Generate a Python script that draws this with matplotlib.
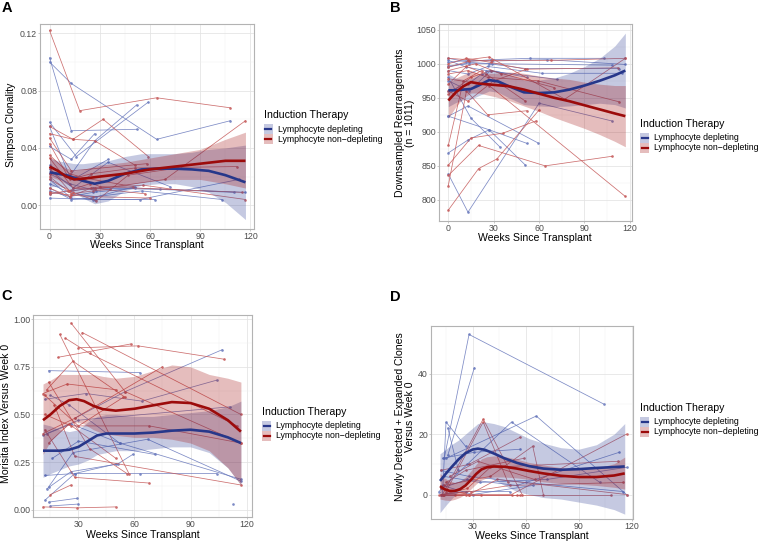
import matplotlib
matplotlib.use('Agg')
import matplotlib.pyplot as plt
from matplotlib.patches import Rectangle
from matplotlib.lines import Line2D

plt.rcParams['font.family'] = ['Liberation Sans', 'DejaVu Sans']

W, H = 763, 543

# ---------------- Panel A : Simpson clonality ----------------
A_blue_x = [[0, 13, 64, 108], [0, 13, 52], [0, 16, 59], [0, 12, 27, 52], [0, 13, 27],
            [0, 14, 35, 72], [0, 13, 27, 63], [0, 14, 28, 55, 103], [0, 12, 26, 51, 117],
            [0, 13, 26, 66, 110], [0, 26, 54, 113], [0, 12, 28], [0, 13, 25, 51], [0, 14, 35]]
A_blue_y = [[0.100, 0.085, 0.046, 0.059], [0.103, 0.052, 0.053], [0.058, 0.034, 0.072],
            [0.055, 0.020, 0.045, 0.070], [0.041, 0.032, 0.050], [0.025, 0.012, 0.030, 0.013],
            [0.018, 0.005, 0.004, 0.004], [0.015, 0.008, 0.006, 0.010, 0.004],
            [0.010, 0.006, 0.009, 0.012, 0.009], [0.008, 0.010, 0.012, 0.011, 0.009],
            [0.005, 0.004, 0.004, 0.018], [0.022, 0.015, 0.010], [0.012, 0.004, 0.005, 0.013],
            [0.028, 0.018, 0.032]]
A_red_x = [[0, 18, 64, 108], [0, 14, 32, 59], [0, 14, 27, 51], [0, 13, 58], [0, 12, 25, 51, 112],
           [0, 14, 27, 69, 117], [0, 12, 27, 56, 117], [0, 13, 26, 36], [0, 14, 28, 47, 77],
           [0, 12, 25, 57], [0, 13, 26, 60], [0, 16, 30, 115], [0, 12, 21, 50], [0, 11, 24]]
A_red_y = [[0.122, 0.066, 0.075, 0.068], [0.055, 0.046, 0.060, 0.034], [0.050, 0.046, 0.045, 0.028],
           [0.047, 0.024, 0.029], [0.043, 0.018, 0.022, 0.026, 0.027],
           [0.033, 0.012, 0.011, 0.018, 0.059], [0.026, 0.010, 0.012, 0.014, 0.004],
           [0.020, 0.008, 0.010, 0.011], [0.018, 0.009, 0.003, 0.021, 0.026],
           [0.012, 0.006, 0.012, 0.008], [0.009, 0.007, 0.006, 0.005],
           [0.022, 0.020, 0.013, 0.009], [0.035, 0.022, 0.019, 0.013], [0.008, 0.010, 0.015]]
A_sb_x = [0, 5, 10, 15, 20, 27, 35, 45, 55, 65, 75, 85, 95, 105, 117]
A_sb_y = [0.023, 0.022, 0.021, 0.019, 0.017, 0.015, 0.017, 0.022, 0.025, 0.0255, 0.0255, 0.025, 0.024, 0.021, 0.016]
A_sb_lo = [0.013, 0.013, 0.012, 0.009, 0.005, 0.001, 0.003, 0.010, 0.014, 0.015, 0.015, 0.013, 0.009, 0.002, -0.010]
A_sb_hi = [0.033, 0.031, 0.030, 0.029, 0.029, 0.030, 0.031, 0.034, 0.036, 0.036, 0.036, 0.037, 0.039, 0.040, 0.042]
A_sr_x = [0, 5, 10, 15, 20, 30, 45, 60, 75, 90, 105, 117]
A_sr_y = [0.027, 0.024, 0.020, 0.018, 0.0185, 0.020, 0.022, 0.025, 0.027, 0.029, 0.031, 0.031]
A_sr_lo = [0.020, 0.018, 0.015, 0.012, 0.012, 0.012, 0.014, 0.017, 0.018, 0.018, 0.015, 0.012]
A_sr_hi = [0.034, 0.030, 0.026, 0.024, 0.025, 0.028, 0.030, 0.033, 0.036, 0.039, 0.046, 0.051]

# ---------------- Panel B : downsampled rearrangements ----------------
B_blue_x = [[0, 13, 60, 108], [0, 27, 51], [0, 13, 27, 52], [0, 15, 34], [0, 13, 59],
            [0, 12, 28, 54, 103], [0, 13, 29, 65, 117], [0, 14, 27, 51, 113], [0, 13, 26, 62, 115],
            [0, 12, 25, 72], [0, 14, 28, 52], [0, 13, 22], [0, 14, 29, 108]]
B_blue_y = [[838, 782, 942, 916], [923, 903, 851], [869, 888, 903, 883], [980, 920, 878],
            [923, 938, 884], [1008, 1003, 1006, 1008, 1008], [1002, 1005, 1004, 1006, 999],
            [997, 1000, 1000, 993, 993], [990, 985, 996, 986, 986], [1005, 995, 990, 977],
            [975, 960, 990, 980], [960, 970, 985], [995, 1002, 1000, 998]]
B_red_x = [[0, 27, 117], [0, 20, 64, 108], [0, 20, 32, 60], [0, 15, 36, 58], [0, 12, 26, 52],
           [0, 13, 27, 77, 117], [0, 12, 28, 51, 112], [0, 14, 29, 68, 117], [0, 13, 26, 59, 113],
           [0, 12, 25, 51], [0, 15, 28, 70], [0, 10, 22], [0, 13, 30, 52], [0, 18, 35]]
B_red_y = [[978, 968, 805], [836, 880, 850, 864], [785, 846, 860, 932], [851, 891, 898, 916],
           [821, 960, 925, 931], [1008, 1006, 1010, 948, 1008], [1000, 1008, 1002, 992, 994],
           [995, 1004, 1005, 1005, 1008], [985, 990, 980, 975, 944], [970, 996, 985, 945],
           [955, 980, 990, 965], [880, 975, 990], [960, 945, 975, 992], [990, 1000, 985]]
B_sb_x = [0, 5, 10, 15, 20, 27, 33, 40, 50, 60, 70, 80, 90, 100, 110, 117]
B_sb_y = [961, 961, 962, 963, 968, 976, 974, 967, 958, 957, 958, 962, 968, 975, 983, 990]
B_sb_lo = [937, 943, 947, 948, 953, 960, 958, 950, 940, 938, 937, 938, 940, 942, 940, 935]
B_sb_hi = [985, 979, 977, 978, 983, 992, 990, 984, 976, 976, 979, 986, 996, 1008, 1026, 1045]
B_sr_x = [0, 5, 10, 15, 20, 30, 40, 50, 60, 70, 80, 90, 100, 110, 117]
B_sr_y = [946, 958, 967, 973, 971, 969, 967, 962, 956, 950, 945, 939, 933, 927, 923]
B_sr_lo = [920, 937, 950, 957, 957, 952, 946, 938, 930, 921, 913, 905, 896, 886, 878]
B_sr_hi = [972, 979, 984, 989, 986, 986, 988, 986, 982, 979, 977, 973, 970, 968, 968]

# ---------------- Panel C : Morisita index ----------------
C_blue_x = [[14, 63], [12, 28, 63, 104], [15, 30], [14, 29], [28, 55, 107], [12, 34, 64, 104],
            [13, 30, 111], [11, 26, 52, 117], [14, 27, 67, 117], [16, 30, 71], [113],
            [13, 26, 51, 59], [12, 28, 50], [15, 25, 52]]
C_blue_y = [[0.73, 0.72], [0.18, 0.19, 0.19, 0.19], [0.02, 0.03], [0.04, 0.06], [0.48, 0.62, 0.84],
            [0.58, 0.61, 0.57, 0.68], [0.40, 0.47, 0.54], [0.39, 0.45, 0.35, 0.16],
            [0.12, 0.30, 0.37, 0.15], [0.27, 0.36, 0.29], [0.03], [0.11, 0.20, 0.24, 0.29],
            [0.05, 0.19, 0.24], [0.60, 0.55, 0.35]]
C_red_x = [[26, 55, 117], [32, 117], [20, 57], [23, 36, 115], [19, 58], [30, 62, 108],
           [11, 28, 75], [11, 24, 50], [13, 27, 55], [12, 26, 68, 117], [14, 25, 50], [15, 26],
           [11, 29, 50], [12, 28, 68], [17, 28, 117], [14, 36, 56], [12, 30, 54]]
C_red_y = [[0.98, 0.62, 0.35], [0.93, 0.50], [0.92, 0.19], [0.90, 0.82, 0.44], [0.80, 0.87],
           [0.85, 0.86, 0.79], [0.40, 0.48, 0.75], [0.61, 0.66, 0.63], [0.63, 0.78, 0.59],
           [0.50, 0.44, 0.44, 0.35], [0.35, 0.45, 0.27], [0.08, 0.13], [0.015, 0.01, 0.015],
           [0.42, 0.17, 0.14], [0.55, 0.28, 0.13], [0.67, 0.32, 0.19], [0.60, 0.44, 0.59]]
C_sb_x = [11, 15, 20, 25, 30, 35, 40, 45, 50, 60, 70, 80, 90, 100, 110, 117]
C_sb_y = [0.31, 0.31, 0.31, 0.315, 0.33, 0.36, 0.39, 0.40, 0.40, 0.40, 0.405, 0.415, 0.42, 0.41, 0.38, 0.35]
C_sb_lo = [0.17, 0.19, 0.21, 0.23, 0.24, 0.26, 0.29, 0.30, 0.31, 0.31, 0.32, 0.33, 0.33, 0.30, 0.22, 0.13]
C_sb_hi = [0.45, 0.44, 0.42, 0.41, 0.42, 0.46, 0.49, 0.50, 0.50, 0.49, 0.49, 0.50, 0.51, 0.52, 0.54, 0.57]
C_sr_x = [11, 15, 20, 25, 29, 33, 38, 43, 50, 60, 70, 80, 90, 100, 110, 117]
C_sr_y = [0.47, 0.50, 0.545, 0.575, 0.58, 0.57, 0.545, 0.528, 0.52, 0.53, 0.548, 0.565, 0.56, 0.53, 0.47, 0.41]
C_sr_lo = [0.29, 0.36, 0.41, 0.45, 0.46, 0.45, 0.42, 0.40, 0.39, 0.38, 0.38, 0.37, 0.35, 0.31, 0.22, 0.13]
C_sr_hi = [0.66, 0.68, 0.71, 0.71, 0.71, 0.71, 0.71, 0.70, 0.69, 0.70, 0.73, 0.76, 0.75, 0.71, 0.69, 0.67]

# ---------------- Panel D : newly detected + expanded clones ----------------
D_blue_x = [[14, 28, 104], [16, 31], [13, 15, 26], [15, 66, 117], [11, 27, 52, 102],
            [13, 31, 57], [12, 27, 55, 113], [13, 30, 64], [12, 26, 51], [14, 34, 72, 117],
            [16, 22], [12, 28, 60, 115]]
D_blue_y = [[12, 53, 30], [13, 42], [0, 24, 16], [12, 26, 0], [1, 10, 24, 4], [12, 14, 15],
            [2, 5, 3, 14], [3, 0, 3], [0, 1, 1], [6, 4, 5, 9], [22, 8], [8, 6, 4, 1]]
D_red_x = [[13, 36, 58], [15, 36, 50], [12, 28, 57], [14, 40, 64, 70], [12, 26, 52, 117],
           [13, 27, 40, 112], [11, 20, 35, 57], [14, 28, 55, 108], [12, 28, 44, 117],
           [15, 26, 59], [13, 29, 51, 115], [17, 33, 65]]
D_red_y = [[0, 25, 0], [1, 24, 4], [8, 10, 19], [3, 6, 16, 0], [0, 0, 0, 20], [0, 2, 9, 11],
           [0, 0, 0, 0], [0, 0, 0, 0], [2, 0, 5, 0], [4, 8, 12], [0, 1, 3, 4], [6, 11, 5]]
D_sb_x = [11.6, 15, 18, 22, 26, 30, 33, 37, 42, 48, 55, 62, 70, 80, 90, 100, 110, 116]
D_sb_y = [4.5, 7.0, 9.0, 11.6, 13.7, 14.9, 15.2, 14.8, 13.6, 12.0, 10.5, 9.4, 8.6, 8.2, 8.4, 8.8, 9.1, 9.3]
D_sb_lo = [-6, -3.5, -1.5, 1, 3, 5, 6, 6, 5, 3, 1, 0, -1, -1.5, -2.5, -3.5, -5, -6.5]
D_sb_hi = [13.5, 15, 16.5, 18, 20, 22, 23.5, 24, 23.5, 22.5, 20.5, 18.5, 17, 15.5, 15, 16.5, 20, 23.5]
D_sr_x = [11.6, 14, 17, 20, 23, 26, 29, 32, 35, 38, 42, 48, 55, 62, 70, 80, 90, 100, 110, 116]
D_sr_y = [2.8, 1.8, 1.2, 1.2, 1.8, 3.0, 4.8, 6.8, 8.3, 9.0, 9.3, 9.2, 8.6, 7.8, 7.0, 6.2, 5.8, 5.8, 6.3, 7.0]
D_sr_lo = [-1.5, -1.8, -2, -1.6, -0.9, 0.2, 1.8, 3.5, 4.8, 5.5, 5.8, 5.8, 5.5, 5.0, 4.2, 3.7, 3.4, 3.0, 2.4, 1.8]
D_sr_hi = [7, 5.5, 4.5, 4, 4.5, 5.8, 7.8, 10, 11.8, 12.5, 12.8, 12.6, 11.7, 10.6, 9.8, 8.9, 8.4, 8.7, 10.2, 12.4]

legend_title = 'Induction Therapy'
legend_labels = ['Lymphocyte depleting', 'Lymphocyte non\u2212depleting']
x_title = 'Weeks Since Transplant'

BLUE_PT = '#6676bb'
RED_PT = '#c45656'
BLUE_SM = '#27378a'
RED_SM = '#9c0b0b'
BLUE_FILL = '#2f4096'
RED_FILL = '#a31313'
FILL_ALPHA = 0.28
TICK_C = '#4d4d4d'

fig = plt.figure(figsize=(W / 100, H / 100), dpi=100)


def rect(l, t, r, b):
    return [l / W, 1 - b / H, (r - l) / W, (b - t) / H]


def fx(px):
    return px / W


def fy(py):
    return 1 - py / H


def panel(rc, xlim, ylim, xticks, yticks, ylabels, bx, by, rx, ry, sb, sr):
    ax = fig.add_axes(rc)
    ax.set_xlim(*xlim)
    ax.set_ylim(*ylim)
    ax.set_xticks(xticks)
    ax.set_yticks(yticks)
    ax.set_yticklabels(ylabels)
    mx = [(xticks[i] + xticks[i + 1]) / 2 for i in range(len(xticks) - 1)]
    if xticks[0] - (xticks[1] - xticks[0]) / 2 > xlim[0]:
        mx = [xticks[0] - (xticks[1] - xticks[0]) / 2] + mx
    my = [(yticks[i] + yticks[i + 1]) / 2 for i in range(len(yticks) - 1)]
    ax.set_xticks(mx, minor=True)
    ax.set_yticks(my, minor=True)
    ax.grid(True, which='major', color='#e3e3e3', lw=0.55, zorder=0)
    ax.grid(True, which='minor', color='#efefef', lw=0.35, zorder=0)
    ax.tick_params(which='minor', length=0)
    ax.tick_params(which='major', length=1.6, width=0.5, color='#b3b3b3',
                   labelsize=6.3, labelcolor=TICK_C, pad=0.6)
    for s in ax.spines.values():
        s.set_color('#b3b3b3')
        s.set_linewidth(0.8)
    ax.set_axisbelow(True)
    for xs, ys in zip(bx, by):
        ax.plot(xs, ys, '-o', color=BLUE_PT, lw=0.55, ms=1.9, mew=0, alpha=0.85, zorder=2)
    for xs, ys in zip(rx, ry):
        ax.plot(xs, ys, '-o', color=RED_PT, lw=0.55, ms=1.9, mew=0, alpha=0.85, zorder=2)
    (sbx, sby, sblo, sbhi), (srx, sry, srlo, srhi) = sb, sr
    ax.fill_between(sbx, sblo, sbhi, color=BLUE_FILL, alpha=FILL_ALPHA, lw=0, zorder=3)
    ax.fill_between(srx, srlo, srhi, color=RED_FILL, alpha=FILL_ALPHA, lw=0, zorder=3)
    ax.plot(sbx, sby, color=BLUE_SM, lw=1.9, zorder=4, solid_capstyle='butt')
    ax.plot(srx, sry, color=RED_SM, lw=1.9, zorder=4, solid_capstyle='butt')
    return ax


def legend(x, ty, y1, y2):
    fig.text(fx(x), fy(ty), legend_title, fontsize=7.6, va='center', ha='left')
    for yc, fc, lc, lab in [(y1, BLUE_FILL, BLUE_SM, legend_labels[0]),
                            (y2, RED_FILL, RED_SM, legend_labels[1])]:
        fig.add_artist(Rectangle((fx(x), fy(yc + 5)), 9 / W, 10 / H, facecolor=fc,
                                 alpha=FILL_ALPHA, edgecolor='none', transform=fig.transFigure))
        fig.add_artist(Line2D([fx(x + 1.5), fx(x + 7.5)], [fy(yc), fy(yc)], color=lc,
                              lw=1.6, transform=fig.transFigure))
        fig.text(fx(x + 14.5), fy(yc), lab, fontsize=6.3, va='center', ha='left')


# A
panel(rect(40.3, 24, 254, 229.3), (-5.5, 122.1), (-0.0168, 0.1265),
      [0, 30, 60, 90, 120], [0, 0.04, 0.08, 0.12], ['0.00', '0.04', '0.08', '0.12'],
      A_blue_x, A_blue_y, A_red_x, A_red_y,
      (A_sb_x, A_sb_y, A_sb_lo, A_sb_hi), (A_sr_x, A_sr_y, A_sr_lo, A_sr_hi))
fig.text(fx(11), fy(125), 'Simpson Clonality', rotation=90, fontsize=7.6, ha='center', va='center')
fig.text(fx(147), fy(245), x_title, fontsize=7.6, ha='center', va='center')
fig.text(fx(7), fy(8), 'A', fontsize=10.5, fontweight='bold', ha='center', va='center')
legend(263.5, 115, 129, 139)

# B
panel(rect(439.3, 24, 631.7, 221), (-5.95, 121.2), (769, 1058.4),
      [0, 30, 60, 90, 120], [800, 850, 900, 950, 1000, 1050],
      ['800', '850', '900', '950', '1000', '1050'],
      B_blue_x, B_blue_y, B_red_x, B_red_y,
      (B_sb_x, B_sb_y, B_sb_lo, B_sb_hi), (B_sr_x, B_sr_y, B_sr_lo, B_sr_hi))
fig.text(fx(405), fy(123), 'Downsampled Rearrangements\n(n = 1011)', rotation=90, fontsize=7.6,
         ha='center', va='center', multialignment='center', linespacing=1.05)
fig.text(fx(535), fy(238), x_title, fontsize=7.6, ha='center', va='center')
fig.text(fx(395), fy(8), 'B', fontsize=10.5, fontweight='bold', ha='center', va='center')
legend(640, 124, 138, 148)

# C
panel(rect(33.3, 315, 252.3, 517), (5.8, 123.1), (-0.038, 1.022),
      [30, 60, 90, 120], [0, 0.25, 0.5, 0.75, 1.0], ['0.00', '0.25', '0.50', '0.75', '1.00'],
      C_blue_x, C_blue_y, C_red_x, C_red_y,
      (C_sb_x, C_sb_y, C_sb_lo, C_sb_hi), (C_sr_x, C_sr_y, C_sr_lo, C_sr_hi))
fig.text(fx(6.5), fy(413), 'Morisita Index Versus Week 0', rotation=90, fontsize=7.6,
         ha='center', va='center')
fig.text(fx(143), fy(534.5), x_title, fontsize=7.6, ha='center', va='center')
fig.text(fx(7), fy(296), 'C', fontsize=10.5, fontweight='bold', ha='center', va='center')
legend(262, 412, 426, 436)

# D
panel(rect(431, 325.7, 632.7, 519), (6.5, 120.5), (-8.1, 55.9),
      [30, 60, 90, 120], [0, 20, 40], ['0', '20', '40'],
      D_blue_x, D_blue_y, D_red_x, D_red_y,
      (D_sb_x, D_sb_y, D_sb_lo, D_sb_hi), (D_sr_x, D_sr_y, D_sr_lo, D_sr_hi))
fig.text(fx(405), fy(417), 'Newly Detected + Expanded Clones\nVersus Week 0', rotation=90,
         fontsize=7.6, ha='center', va='center', multialignment='center', linespacing=1.05)
fig.text(fx(532), fy(536), x_title, fontsize=7.6, ha='center', va='center')
fig.text(fx(395), fy(297), 'D', fontsize=10.5, fontweight='bold', ha='center', va='center')
legend(640, 408, 422, 432)

fig.savefig('out.png', dpi=100)
